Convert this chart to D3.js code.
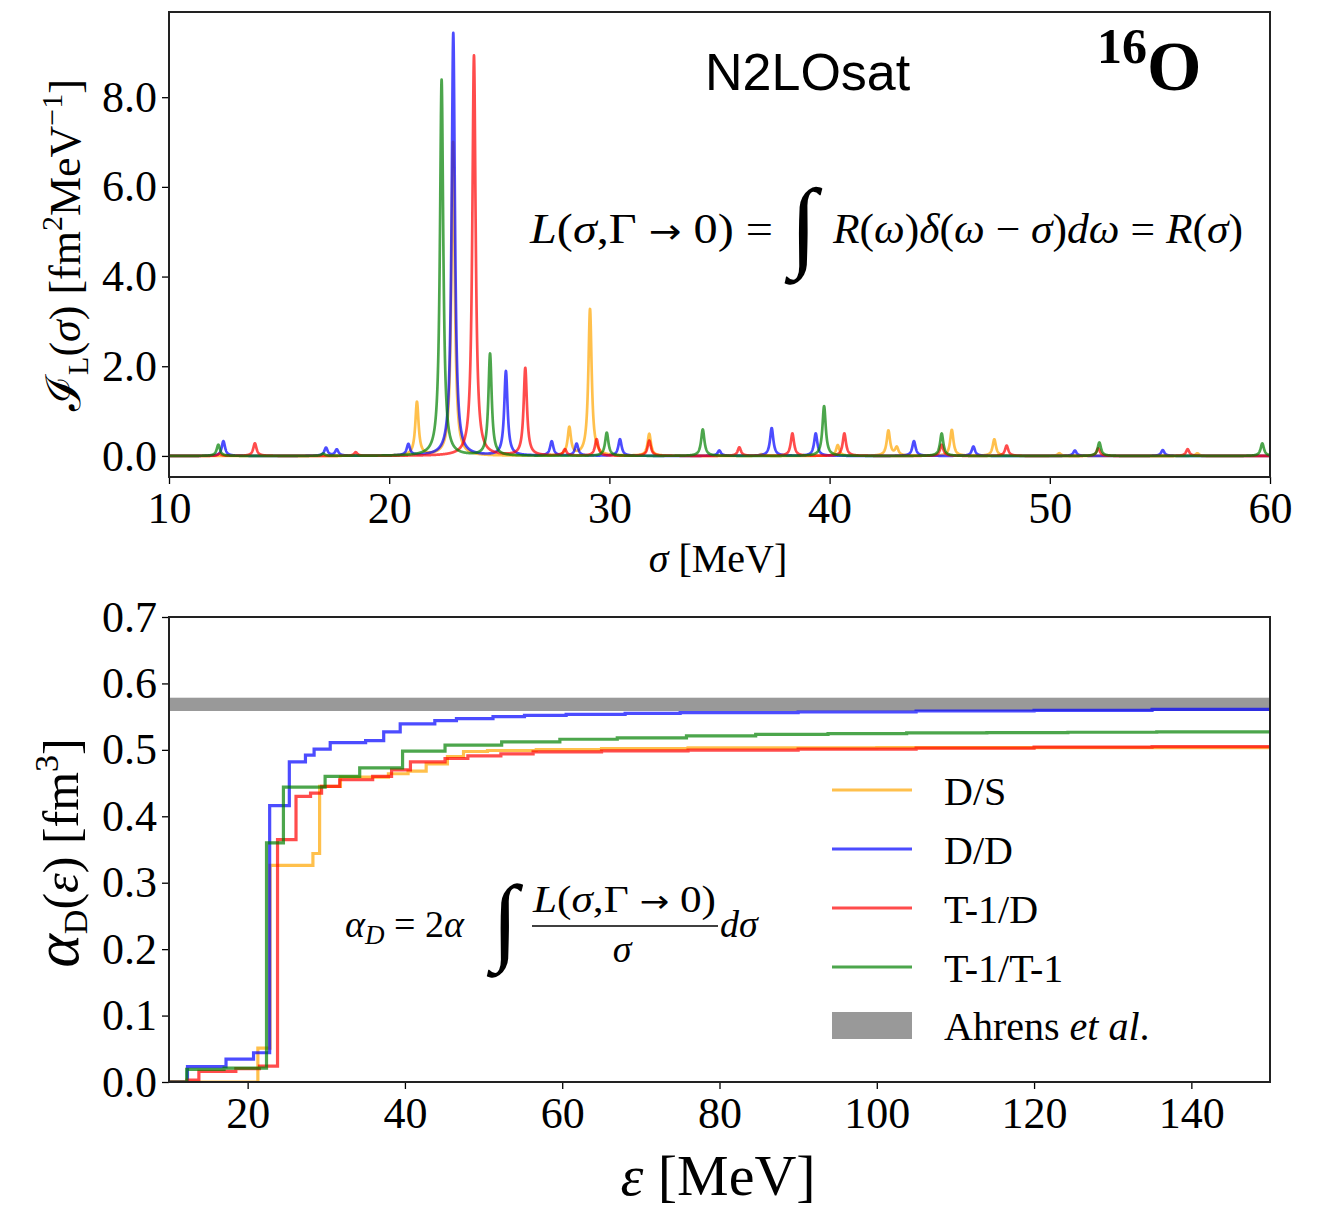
<!DOCTYPE html>
<html><head><meta charset="utf-8">
<script src="https://cdn.jsdelivr.net/npm/d3@7"></script>
<style>
body{margin:0;background:#fff}
svg{display:block}
</style>
</head><body>
<script>
// ---------- data ----------
const seriesNames  = ["D/S", "D/D", "T-1/D", "T-1/T-1"];
const seriesColors = ["#FFA500", "#0000FF", "#FF0000", "#008000"];

// top panel: response peaks [sigma (MeV), height (fm^2 MeV^-1)]
const peaksDS = [[21.26,1.19],[22.90,7.0],[28.18,0.62],[29.12,3.27],[31.81,0.49],[36.9,0.04],[40.37,0.24],[42.67,0.56],[43.05,0.18],[45.55,0.58],[47.48,0.37],[50.43,0.06],[56.7,0.06]];
const peaksDD = [[12.47,0.33],[17.13,0.18],[17.62,0.14],[20.87,0.25],[22.91,9.43],[25.30,1.88],[27.38,0.32],[28.51,0.27],[30.48,0.37],[34.99,0.12],[37.37,0.62],[39.37,0.50],[43.83,0.33],[46.53,0.21],[51.14,0.12],[55.13,0.13]];
const peaksT1D = [[12.3,0.05],[13.90,0.28],[18.48,0.08],[23.85,8.93],[26.18,1.95],[27.98,0.14],[29.42,0.37],[31.81,0.34],[35.90,0.19],[38.31,0.50],[40.67,0.50],[45.09,0.25],[48.04,0.23],[52.2,0.17],[56.26,0.15]];
const peaksT1T1 = [[12.24,0.25],[17.0,0.05],[22.38,8.39],[24.58,2.27],[29.88,0.52],[34.24,0.59],[39.75,1.11],[45.09,0.50],[52.25,0.30],[59.65,0.28]];
const peakHalfWidth = 0.09; // MeV

// bottom panel: running polarizability [epsilon (MeV), alpha_D (fm^3)]
const stepsDS = [[10,0],[21.3,0.051],[22.85,0.326],[28.3,0.344],[29.15,0.445],[31.8,0.459],[37.9,0.464],[40.4,0.468],[42.7,0.479],[45.4,0.490],[47.45,0.4975],[50.5,0.499],[56.7,0.5005],[65,0.502],[76,0.503],[100,0.5033],[125,0.5035],[150,0.5037]];
const stepsDD = [[10,0],[12.35,0.023],[17.25,0.0345],[20.75,0.044],[22.8,0.416],[25.3,0.482],[27.35,0.492],[28.45,0.501],[30.5,0.511],[35.0,0.514],[37.3,0.527],[39.4,0.539],[43.8,0.544],[46.55,0.547],[51.2,0.550],[55.2,0.552],[60.5,0.5535],[68,0.555],[75,0.556],[90,0.557],[105,0.5585],[120,0.5595],[135,0.561],[150,0.5615]];
const stepsT1D = [[10,0],[12.3,0.003],[13.8,0.016],[18.5,0.020],[21.5,0.024],[23.8,0.365],[26.15,0.430],[28.0,0.435],[29.4,0.445],[31.7,0.455],[35.9,0.460],[38.3,0.470],[40.7,0.482],[45.1,0.487],[48.0,0.491],[52.2,0.494],[56.3,0.497],[65,0.4985],[76,0.4995],[90,0.501],[105,0.5025],[120,0.504],[135,0.505],[150,0.506]];
const stepsT1T1 = [[10,0],[12.25,0.019],[17.0,0.021],[22.4,0.360],[24.55,0.444],[29.85,0.460],[34.25,0.473],[39.7,0.498],[45.1,0.507],[52.3,0.512],[59.7,0.516],[67,0.518],[75.8,0.521],[84.6,0.5232],[93.8,0.5245],[103.8,0.5255],[114,0.526],[124.3,0.5265],[135.6,0.527],[150,0.527]];
const ahrensBand = [0.5585, 0.5785];

const topXTicks = [10,20,30,40,50,60];
const topYTicks = [0,2,4,6,8];
const botXTicks = [20,40,60,80,100,120,140];
const botYTicks = [0,0.1,0.2,0.3,0.4,0.5,0.6,0.7];

// ---------- layout ----------
const SERIF = "Liberation Serif, DejaVu Serif, serif";
const W = 1320, H = 1207;
const svg = d3.select("body").append("svg").attr("width", W).attr("height", H)
  .attr("font-family", SERIF);
const defs = svg.append("defs");

const topBox = {l:169, r:1270, t:12, b:477};
const botBox = {l:169, r:1270, t:617, b:1082};

const xTop = d3.scaleLinear().domain([10,60]).range([topBox.l, topBox.r]);
const yTop = d3.scaleLinear().domain([-0.47, 9.9]).range([topBox.b, topBox.t]);
const xBot = d3.scaleLinear().domain([10,150]).range([botBox.l, botBox.r]);
const yBot = d3.scaleLinear().domain([0,0.7]).range([botBox.b, botBox.t]);

defs.append("clipPath").attr("id","clipTop").append("rect")
  .attr("x",topBox.l).attr("y",topBox.t).attr("width",topBox.r-topBox.l).attr("height",topBox.b-topBox.t);
defs.append("clipPath").attr("id","clipBot").append("rect")
  .attr("x",botBox.l).attr("y",botBox.t).attr("width",botBox.r-botBox.l).attr("height",botBox.b-botBox.t);

// ---------- top panel ----------
function lorentzCurve(peaks){
  const xs = d3.range(0, 10001).map(i => 10 + i*0.005);
  peaks.forEach(p => xs.push(p[0]));
  xs.sort((a,b)=>a-b);
  const g2 = peakHalfWidth*peakHalfWidth;
  return xs.map(s => [s, d3.sum(peaks, p => p[1]*g2/((s-p[0])*(s-p[0])+g2))]);
}
const topSeries = [peaksDS, peaksDD, peaksT1D, peaksT1T1];
const gTop = svg.append("g").attr("clip-path","url(#clipTop)");
const lineTop = d3.line().x(d=>xTop(d[0])).y(d=>yTop(d[1]));
topSeries.forEach((pk,i)=>{
  gTop.append("path").datum(lorentzCurve(pk))
    .attr("d", lineTop).attr("fill","none")
    .attr("stroke", seriesColors[i]).attr("stroke-opacity",0.7)
    .attr("stroke-width",2.7).attr("stroke-linejoin","round");
});

function styleAxis(g, size){
  g.attr("font-family", SERIF).attr("font-size", size);
  g.selectAll("text").attr("fill","#000");
  g.selectAll("line").attr("stroke","#000").attr("stroke-width",1.3);
  g.select(".domain").remove();
}
const axTopX = svg.append("g").attr("transform",`translate(0,${topBox.b})`)
  .call(d3.axisBottom(xTop).tickValues(topXTicks).tickSize(7).tickPadding(8).tickFormat(d3.format("d")));
styleAxis(axTopX, 44);
const axTopY = svg.append("g").attr("transform",`translate(${topBox.l},0)`)
  .call(d3.axisLeft(yTop).tickValues(topYTicks).tickSize(7).tickPadding(5).tickFormat(d3.format(".1f")));
styleAxis(axTopY, 44);
svg.append("rect").attr("x",topBox.l).attr("y",topBox.t)
  .attr("width",topBox.r-topBox.l).attr("height",topBox.b-topBox.t)
  .attr("fill","none").attr("stroke","#222").attr("stroke-width",2);

// rich text helper
function rich(sel, parts){
  parts.forEach(p=>{
    const t = sel.append("tspan").text(p.t);
    if(p.it) t.attr("font-style","italic");
    if(p.fs) t.attr("font-size",p.fs);
    if(p.dy) t.attr("dy",p.dy);
    if(p.ff) t.attr("font-family",p.ff);
    if(p.fw) t.attr("font-weight",p.fw);
  });
  return sel;
}

// top axis labels
rich(svg.append("text").attr("x",718).attr("y",572).attr("text-anchor","middle").attr("font-size",40),
  [{t:"σ",it:true},{t:" [MeV]"}]);
rich(svg.append("text").attr("transform","translate(80,245) rotate(-90)").attr("text-anchor","middle").attr("font-size",44),
  [{t:"ℐ",fs:48},{t:"L",fs:30,dy:8},{t:"(",dy:-8},{t:"σ",it:true},{t:") [fm"},{t:"2",fs:30,dy:-18},{t:"MeV",dy:18},{t:"−1",fs:30,dy:-18},{t:"]",dy:18}]);

// titles
svg.append("text").attr("x",705).attr("y",90).attr("font-family","Liberation Sans, Arial, sans-serif")
  .attr("font-size",52).text("N2LOsat");
rich(svg.append("text").attr("x",1097).attr("y",90).attr("font-weight","bold"),
  [{t:"16",fs:50,dy:-27},{t:"O",fs:70,dy:27}]);

// top formula
rich(svg.append("text").attr("x",530).attr("y",243).attr("font-size",42).attr("textLength",243).attr("lengthAdjust","spacingAndGlyphs"),
  [{t:"L",it:true},{t:"("},{t:"σ",it:true},{t:",Γ "},{t:"→",ff:"DejaVu Sans",fs:34},{t:" 0) ="}]);
svg.append("text").attr("x",790).attr("y",258).attr("font-size",100).text("∫");
rich(svg.append("text").attr("x",833).attr("y",243).attr("font-size",42).attr("textLength",410).attr("lengthAdjust","spacingAndGlyphs"),
  [{t:"R",it:true},{t:"("},{t:"ω",it:true},{t:")"},{t:"δ",it:true},{t:"("},{t:"ω",it:true},{t:" − "},{t:"σ",it:true},{t:")"},{t:"dω",it:true},{t:" = "},{t:"R",it:true},{t:"("},{t:"σ",it:true},{t:")"}]);

// ---------- bottom panel ----------
svg.append("rect").attr("clip-path","url(#clipBot)")
  .attr("x",botBox.l).attr("width",botBox.r-botBox.l)
  .attr("y",yBot(ahrensBand[1])).attr("height",yBot(ahrensBand[0])-yBot(ahrensBand[1]))
  .attr("fill","#999999");
const botSeries = [stepsDS, stepsDD, stepsT1D, stepsT1T1];
const gBot = svg.append("g").attr("clip-path","url(#clipBot)");
const lineBot = d3.line().x(d=>xBot(d[0])).y(d=>yBot(d[1])).curve(d3.curveStepAfter);
botSeries.forEach((st,i)=>{
  gBot.append("path").datum(st).attr("d",lineBot).attr("fill","none")
    .attr("stroke",seriesColors[i]).attr("stroke-opacity",0.7).attr("stroke-width",3.2);
});
const axBotX = svg.append("g").attr("transform",`translate(0,${botBox.b})`)
  .call(d3.axisBottom(xBot).tickValues(botXTicks).tickSize(7).tickPadding(8).tickFormat(d3.format("d")));
styleAxis(axBotX, 44);
const axBotY = svg.append("g").attr("transform",`translate(${botBox.l},0)`)
  .call(d3.axisLeft(yBot).tickValues(botYTicks).tickSize(7).tickPadding(5).tickFormat(d3.format(".1f")));
styleAxis(axBotY, 44);
svg.append("rect").attr("x",botBox.l).attr("y",botBox.t)
  .attr("width",botBox.r-botBox.l).attr("height",botBox.b-botBox.t)
  .attr("fill","none").attr("stroke","#222").attr("stroke-width",2);

rich(svg.append("text").attr("x",718).attr("y",1195).attr("text-anchor","middle").attr("font-size",58),
  [{t:"ε",it:true},{t:" [MeV]"}]);
rich(svg.append("text").attr("transform","translate(78,853) rotate(-90)").attr("text-anchor","middle").attr("font-size",50),
  [{t:"α",it:true,fs:64},{t:"D",fs:34,dy:9},{t:"(",dy:-9},{t:"ε",it:true},{t:") [fm"},{t:"3",fs:34,dy:-20},{t:"]",dy:20}]);

// bottom formula
rich(svg.append("text").attr("x",345).attr("y",937).attr("font-size",38),
  [{t:"α",it:true},{t:"D",it:true,fs:27,dy:7},{t:" = 2",dy:-7},{t:"α",it:true}]);
svg.append("text").attr("x",492).attr("y",952).attr("font-size",96).text("∫");
rich(svg.append("text").attr("x",533).attr("y",912).attr("font-size",38).attr("textLength",183).attr("lengthAdjust","spacingAndGlyphs"),
  [{t:"L",it:true},{t:"("},{t:"σ",it:true},{t:",Γ "},{t:"→",ff:"DejaVu Sans",fs:31},{t:" 0)"}]);
svg.append("line").attr("x1",532).attr("x2",718).attr("y1",926).attr("y2",926).attr("stroke","#000").attr("stroke-width",1.6);
svg.append("text").attr("x",622).attr("y",962).attr("text-anchor","middle").attr("font-size",38).attr("font-style","italic").text("σ");
svg.append("text").attr("x",720).attr("y",937).attr("font-size",38).attr("font-style","italic").text("dσ");

// legend
const legY = [790, 849, 908, 967];
seriesNames.forEach((n,i)=>{
  svg.append("line").attr("x1",832).attr("x2",912).attr("y1",legY[i]).attr("y2",legY[i])
    .attr("stroke",seriesColors[i]).attr("stroke-opacity",0.7).attr("stroke-width",3.2);
  svg.append("text").attr("x",944).attr("y",legY[i]+15).attr("font-size",40).text(n);
});
svg.append("rect").attr("x",832).attr("y",1012).attr("width",80).attr("height",27).attr("fill","#999999");
rich(svg.append("text").attr("x",944).attr("y",1040).attr("font-size",40),
  [{t:"Ahrens "},{t:"et al",it:true},{t:"."}]);
</script>
</body></html>
